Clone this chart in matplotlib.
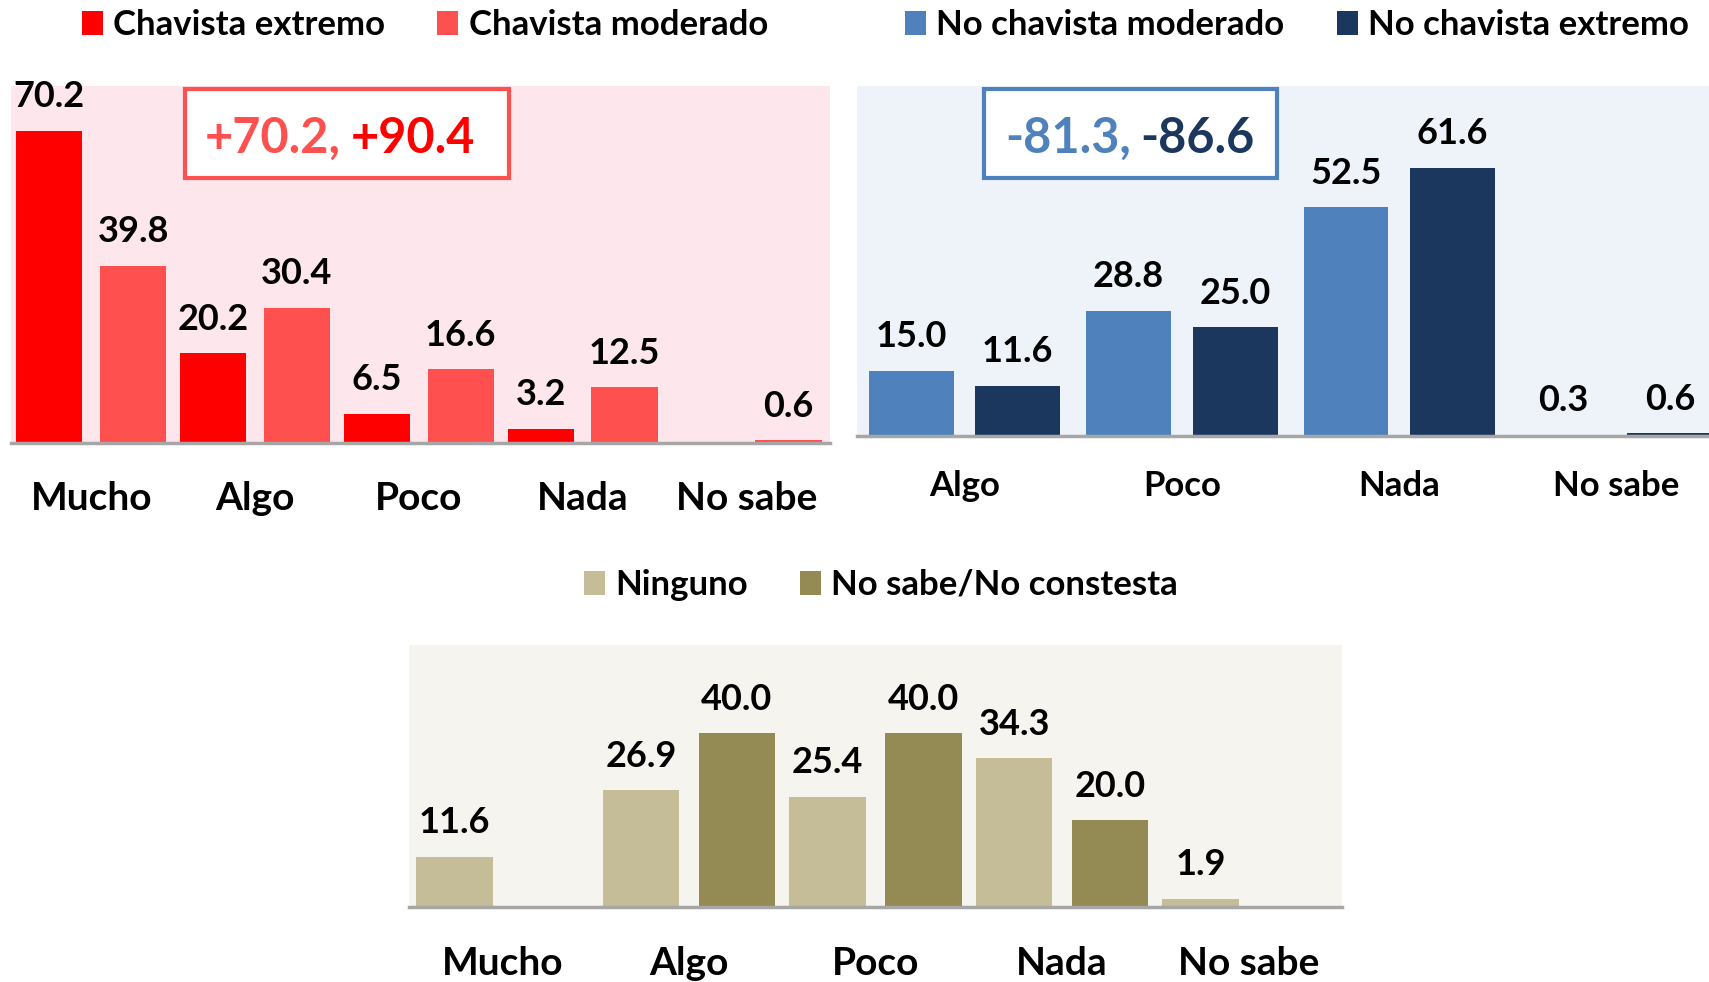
import matplotlib.pyplot as plt
from matplotlib.patches import Patch, Rectangle

# data
cats_left = ["Mucho", "Algo", "Poco", "Nada", "No sabe"]
chav_ext = [70.2, 20.2, 6.5, 3.2, 0]
chav_mod = [39.8, 30.4, 16.6, 12.5, 0.6]

cats_right = ["Algo", "Poco", "Nada", "No sabe"]
nochav_mod = [15.0, 28.8, 52.5, 0.3]
nochav_ext = [11.6, 25.0, 61.6, 0.6]

cats_bottom = ["Mucho", "Algo", "Poco", "Nada", "No sabe"]
ninguno = [11.6, 26.9, 25.4, 34.3, 1.9]
nsnc = [0, 40.0, 40.0, 20.0, 0]

W, H = 1709, 982
FONT = "Lato"
WEIGHT = "bold"
plt.rcParams["font.family"] = [FONT, "DejaVu Sans"]
plt.rcParams["font.weight"] = WEIGHT

fig = plt.figure(figsize=(W / 100, H / 100), dpi=100)


def px_axes(x0, y0, x1, y1):
    # pixel box (top-left origin) -> axes
    return fig.add_axes([x0 / W, 1 - y1 / H, (x1 - x0) / W, (y1 - y0) / H])


def grouped(ax, cats, s1, s2, c1, c2, bg, off, width, ymax, xlim, lab_size, lab_drop):
    ax.set_facecolor(bg)
    xs = range(len(cats))
    for vals, col, sign in ((s1, c1, -1), (s2, c2, 1)):
        pos = [x + sign * off for x in xs]
        ax.bar(pos, vals, width, color=col, zorder=2)
        for p, v in zip(pos, vals):
            if v:
                ax.annotate(f"{v:.1f}", (p, v), xytext=(0, 17), textcoords="offset points",
                            ha="center", va="baseline", fontsize=26, fontweight=WEIGHT)
    for x, c in zip(xs, cats):
        ax.annotate(c, (x, 0), xycoords=("data", "axes fraction"), xytext=(0, -lab_drop),
                    textcoords="offset points", ha="center", va="baseline",
                    fontsize=lab_size, fontweight=WEIGHT, annotation_clip=False)
    ax.axhline(0, color="#A6A6A6", lw=2.5, zorder=3, clip_on=False)
    ax.set_xlim(*xlim)
    ax.set_ylim(0, ymax)
    ax.set_xticks([])
    ax.set_yticks([])
    for s in ax.spines.values():
        s.set_visible(False)


# top left: chavistas
ax1 = px_axes(11, 86, 830, 443)
grouped(ax1, cats_left, chav_ext, chav_mod, "#FF0000", "#FF5050", "#FDE6EC",
        0.256, 0.405, 80.3, (-0.49, 4.51), 28, 48)

# top right: no chavistas
ax2 = px_axes(857, 86, W, 436)
grouped(ax2, cats_right, nochav_mod, nochav_ext, "#4F81BD", "#1B375E", "#EEF2F9",
        0.245, 0.39, 80.4, (-0.495, 3.425), 25, 43)

# bottom: ninguno / ns-nc
ax3 = px_axes(409, 645, 1342, 907)
grouped(ax3, cats_bottom, ninguno, nsnc, "#C4BD97", "#948A54", "#F5F4EF",
        0.257, 0.41, 60.4, (-0.5, 4.5), 28, 49)


def legend(labels, colors, cx, cy):
    handles = [Patch(facecolor=c, edgecolor="none") for c in colors]
    fig.legend(handles, labels, loc="center", bbox_to_anchor=(cx / W, 1 - cy / H),
               ncol=2, frameon=False, prop={"family": FONT, "weight": WEIGHT, "size": 25},
               handlelength=0.6, handleheight=0.67, handletextpad=0.3,
               columnspacing=1.5, borderaxespad=0, borderpad=0)


legend(["Chavista extremo", "Chavista moderado"], ["#FF0000", "#FF5050"], 425, 25)
legend(["No chavista moderado", "No chavista extremo"], ["#4F81BD", "#1B375E"], 1297, 25)
legend(["Ninguno", "No sabe/No constesta"], ["#C4BD97", "#948A54"], 881, 585)


def box(x0, y0, x1, y1, edge, tx, ty, parts):
    fig.patches.append(Rectangle((x0 / W, 1 - y1 / H), (x1 - x0) / W, (y1 - y0) / H,
                                 transform=fig.transFigure, facecolor="white",
                                 edgecolor=edge, lw=3, zorder=5))
    t1 = fig.text(tx / W, 1 - ty / H, parts[0][0], color=parts[0][1], fontsize=35,
                  fontweight=WEIGHT, ha="left", va="baseline", zorder=6)
    t2 = plt.annotate(parts[1][0], xy=(1, 0), xycoords=t1, xytext=(7, 0),
                      textcoords="offset points", color=parts[1][1], fontsize=35,
                      fontweight=WEIGHT, ha="left", va="bottom", zorder=6)
    fig.add_artist(t2)


box(185, 89, 509, 178, "#FF5050", 205, 153, [("+70.2,", "#FF5050"), ("+90.4", "#FF0000")])
box(984, 89, 1277, 178, "#4F81BD", 1005, 153, [("-81.3,", "#4F81BD"), ("-86.6", "#1B375E")])

fig.savefig("out.png", dpi=100)
